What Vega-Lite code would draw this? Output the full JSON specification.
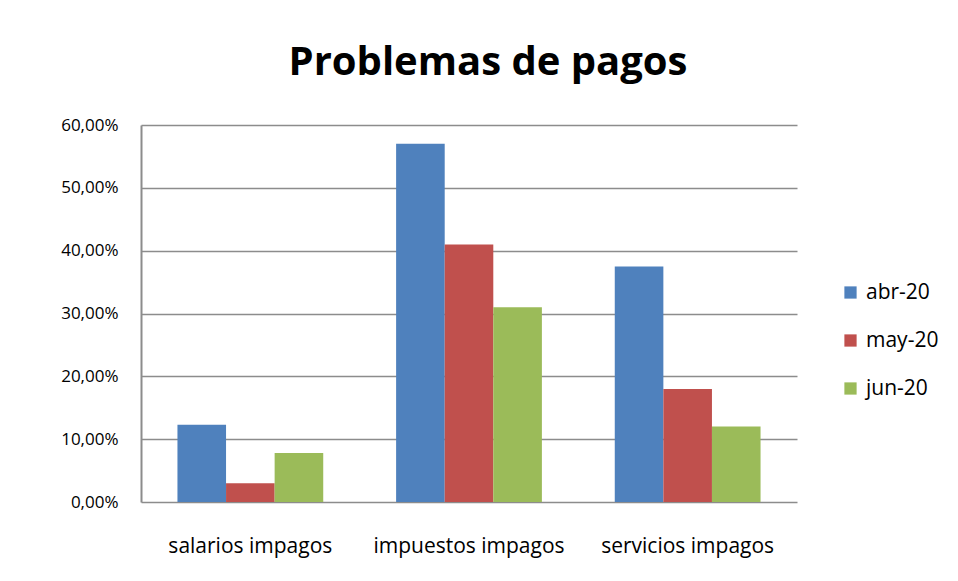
{
  "$schema": "https://vega.github.io/schema/vega-lite/v6.json",
  "width": 656,
  "height": 377,
  "autosize": {"type": "none"},
  "padding": {"left": 141, "top": 125, "right": 161, "bottom": 79},
  "background": "white",
  "title": {
    "text": "Problemas de pagos",
    "font": "Open Sans",
    "fontSize": 40,
    "fontWeight": "bold",
    "color": "#000000",
    "anchor": "middle",
    "frame": "group",
    "dx": 19,
    "offset": 33
  },
  "data": {
    "values": [
      {"categoria": "salarios impagos", "mes": "abr-20", "valor": 0.123},
      {"categoria": "salarios impagos", "mes": "may-20", "valor": 0.030},
      {"categoria": "salarios impagos", "mes": "jun-20", "valor": 0.078},
      {"categoria": "impuestos impagos", "mes": "abr-20", "valor": 0.570},
      {"categoria": "impuestos impagos", "mes": "may-20", "valor": 0.410},
      {"categoria": "impuestos impagos", "mes": "jun-20", "valor": 0.310},
      {"categoria": "servicios impagos", "mes": "abr-20", "valor": 0.375},
      {"categoria": "servicios impagos", "mes": "may-20", "valor": 0.180},
      {"categoria": "servicios impagos", "mes": "jun-20", "valor": 0.120}
    ]
  },
  "mark": {"type": "bar", "stroke": null},
  "encoding": {
    "x": {
      "field": "categoria",
      "type": "nominal",
      "sort": ["salarios impagos", "impuestos impagos", "servicios impagos"],
      "scale": {"paddingInner": 0.3333, "paddingOuter": 0.1667},
      "axis": {
        "title": null,
        "labelAngle": 0,
        "labelFont": "Open Sans",
        "labelFontSize": 21,
        "labelColor": "#000000",
        "labelPadding": 33,
        "labelLimit": 400,
        "labelOverlap": false,
        "ticks": false,
        "domain": false,
        "labelBaseline": "top"
      }
    },
    "xOffset": {
      "field": "mes",
      "type": "nominal",
      "sort": ["abr-20", "may-20", "jun-20"],
      "scale": {"paddingInner": 0, "paddingOuter": 0}
    },
    "y": {
      "field": "valor",
      "type": "quantitative",
      "scale": {"domain": [0, 0.6], "nice": false},
      "axis": {
        "title": null,
        "values": [0, 0.1, 0.2, 0.3, 0.4, 0.5, 0.6],
        "labelExpr": "replace(format(datum.value, '.2%'), '.', ',')",
        "labelFont": "Open Sans",
        "labelFontSize": 17,
        "labelColor": "#000000",
        "labelPadding": 23,
        "ticks": false,
        "domain": true,
        "domainColor": "#8c8c8c",
        "domainWidth": 2,
        "grid": true,
        "gridColor": "#8c8c8c",
        "gridWidth": 1.6
      }
    },
    "color": {
      "field": "mes",
      "type": "nominal",
      "sort": ["abr-20", "may-20", "jun-20"],
      "scale": {"domain": ["abr-20", "may-20", "jun-20"], "range": ["#4F81BD", "#C0504D", "#9BBB59"]},
      "legend": {
        "title": null,
        "orient": "none",
        "legendX": 699,
        "legendY": 157,
        "symbolType": "square",
        "symbolSize": 150,
        "symbolStrokeWidth": 0,
        "labelFont": "Open Sans",
        "labelFontSize": 21,
        "labelColor": "#000000",
        "labelOffset": 5,
        "rowPadding": 26
      }
    }
  },
  "config": {
    "view": {"stroke": null}
  }
}
